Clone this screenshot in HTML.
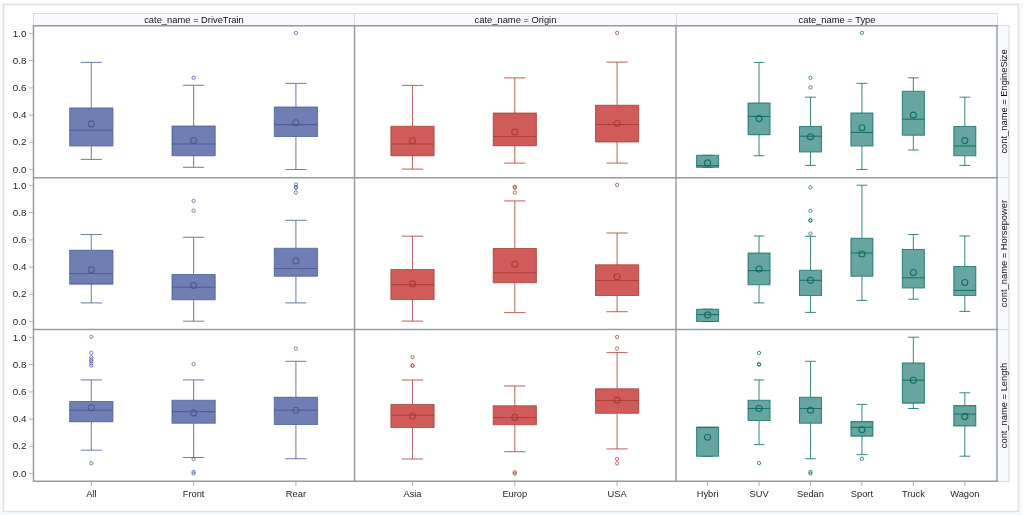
<!DOCTYPE html>
<html><head><meta charset="utf-8"><style>
html,body{margin:0;padding:0;width:1023px;height:515px;overflow:hidden;background:#f7f8fb;font-family:"Liberation Sans",sans-serif;}
svg text{font-family:"Liberation Sans",sans-serif;}
svg{will-change:transform;}
</style></head><body>
<svg width="1023" height="515" viewBox="0 0 1023 515" style="position:absolute;left:0;top:0">
<rect x="0" y="0" width="1023" height="515" fill="#f8f9fd"/>
<rect x="0" y="0" width="1023" height="2" fill="#fefefe"/>
<rect x="2" y="2" width="1019" height="512" fill="#fafbfd"/>
<rect x="3.5" y="4.5" width="1015" height="507" fill="#ffffff" stroke="#e2e2e2" stroke-width="1.6"/>
<rect x="33.5" y="13.5" width="321" height="12" fill="#f9fafd" stroke="#d9dadd" stroke-width="1"/>
<text transform="translate(194.00,22.60) scale(1,1.0)" x="0" y="0" text-anchor="middle" font-size="9.35" fill="#111">cate_name = DriveTrain</text>
<rect x="354.5" y="13.5" width="322" height="12" fill="#f9fafd" stroke="#d9dadd" stroke-width="1"/>
<text transform="translate(515.50,22.60) scale(1,1.0)" x="0" y="0" text-anchor="middle" font-size="9.35" fill="#111">cate_name = Origin</text>
<rect x="676.5" y="13.5" width="321" height="12" fill="#f9fafd" stroke="#d9dadd" stroke-width="1"/>
<text transform="translate(837.00,22.60) scale(1,1.0)" x="0" y="0" text-anchor="middle" font-size="9.35" fill="#111">cate_name = Type</text>
<rect x="997.5" y="25.5" width="11.5" height="152" fill="#f9fafd" stroke="#d9dadd" stroke-width="1"/>
<text transform="translate(1006.80,101.50) rotate(-90) scale(1,1.0)" x="0" y="0" text-anchor="middle" font-size="9.35" fill="#111">cont_name = EngineSize</text>
<rect x="997.5" y="177.5" width="11.5" height="152" fill="#f9fafd" stroke="#d9dadd" stroke-width="1"/>
<text transform="translate(1006.80,253.50) rotate(-90) scale(1,1.0)" x="0" y="0" text-anchor="middle" font-size="9.35" fill="#111">cont_name = Horsepower</text>
<rect x="997.5" y="329.5" width="11.5" height="152" fill="#f9fafd" stroke="#d9dadd" stroke-width="1"/>
<text transform="translate(1006.80,405.50) rotate(-90) scale(1,1.0)" x="0" y="0" text-anchor="middle" font-size="9.35" fill="#111">cont_name = Length</text>
<rect x="33.5" y="25.5" width="964" height="456" fill="#fff"/>
<line x1="91.3" y1="62.4" x2="91.3" y2="107.9" stroke="#445694" stroke-width="1.05" opacity="0.75"/>
<line x1="80.7" y1="62.4" x2="101.9" y2="62.4" stroke="#445694" stroke-width="1.05" opacity="0.75"/>
<line x1="91.3" y1="145.9" x2="91.3" y2="159.4" stroke="#445694" stroke-width="1.05" opacity="0.75"/>
<line x1="80.7" y1="159.4" x2="101.9" y2="159.4" stroke="#445694" stroke-width="1.05" opacity="0.75"/>
<rect x="69.7" y="107.9" width="43.2" height="38" fill="#6f7eb3" stroke="#445694" stroke-opacity="0.72" stroke-linejoin="round" stroke-width="1.05"/>
<line x1="69.7" y1="130.2" x2="112.9" y2="130.2" stroke="#445694" stroke-opacity="0.8" stroke-width="1.05"/>
<circle cx="91.3" cy="123.9" r="3.0" fill="none" stroke="#445694" stroke-opacity="0.85" stroke-width="1.1"/>
<line x1="193.6" y1="85.3" x2="193.6" y2="126.1" stroke="#445694" stroke-width="1.05" opacity="0.75"/>
<line x1="183" y1="85.3" x2="204.2" y2="85.3" stroke="#445694" stroke-width="1.05" opacity="0.75"/>
<line x1="193.6" y1="155.6" x2="193.6" y2="167.3" stroke="#445694" stroke-width="1.05" opacity="0.75"/>
<line x1="183" y1="167.3" x2="204.2" y2="167.3" stroke="#445694" stroke-width="1.05" opacity="0.75"/>
<rect x="172" y="126.1" width="43.2" height="29.5" fill="#6f7eb3" stroke="#445694" stroke-opacity="0.72" stroke-linejoin="round" stroke-width="1.05"/>
<line x1="172" y1="144" x2="215.2" y2="144" stroke="#445694" stroke-opacity="0.8" stroke-width="1.05"/>
<circle cx="193.6" cy="140.6" r="3.0" fill="none" stroke="#445694" stroke-opacity="0.85" stroke-width="1.1"/>
<circle cx="193.6" cy="77.8" r="1.65" fill="none" stroke="#445694" stroke-opacity="0.75" stroke-width="0.95"/>
<line x1="295.9" y1="83.4" x2="295.9" y2="107" stroke="#445694" stroke-width="1.05" opacity="0.75"/>
<line x1="285.3" y1="83.4" x2="306.5" y2="83.4" stroke="#445694" stroke-width="1.05" opacity="0.75"/>
<line x1="295.9" y1="136.5" x2="295.9" y2="169.5" stroke="#445694" stroke-width="1.05" opacity="0.75"/>
<line x1="285.3" y1="169.5" x2="306.5" y2="169.5" stroke="#445694" stroke-width="1.05" opacity="0.75"/>
<rect x="274.3" y="107" width="43.2" height="29.5" fill="#6f7eb3" stroke="#445694" stroke-opacity="0.72" stroke-linejoin="round" stroke-width="1.05"/>
<line x1="274.3" y1="124.6" x2="317.5" y2="124.6" stroke="#445694" stroke-opacity="0.8" stroke-width="1.05"/>
<circle cx="295.9" cy="122.7" r="3.0" fill="none" stroke="#445694" stroke-opacity="0.85" stroke-width="1.1"/>
<circle cx="295.9" cy="32.9" r="1.65" fill="none" stroke="#445694" stroke-opacity="0.75" stroke-width="0.95"/>
<line x1="412.5" y1="85.4" x2="412.5" y2="126.3" stroke="#a23a2e" stroke-width="1.05" opacity="0.75"/>
<line x1="401.9" y1="85.4" x2="423.1" y2="85.4" stroke="#a23a2e" stroke-width="1.05" opacity="0.75"/>
<line x1="412.5" y1="155.6" x2="412.5" y2="169.1" stroke="#a23a2e" stroke-width="1.05" opacity="0.75"/>
<line x1="401.9" y1="169.1" x2="423.1" y2="169.1" stroke="#a23a2e" stroke-width="1.05" opacity="0.75"/>
<rect x="390.9" y="126.3" width="43.2" height="29.3" fill="#d05b5b" stroke="#a23a2e" stroke-opacity="0.72" stroke-linejoin="round" stroke-width="1.05"/>
<line x1="390.9" y1="143.9" x2="434.1" y2="143.9" stroke="#a23a2e" stroke-opacity="0.8" stroke-width="1.05"/>
<circle cx="412.5" cy="140.8" r="3.0" fill="none" stroke="#a23a2e" stroke-opacity="0.85" stroke-width="1.1"/>
<line x1="514.8" y1="77.9" x2="514.8" y2="113.1" stroke="#a23a2e" stroke-width="1.05" opacity="0.75"/>
<line x1="504.2" y1="77.9" x2="525.4" y2="77.9" stroke="#a23a2e" stroke-width="1.05" opacity="0.75"/>
<line x1="514.8" y1="145.8" x2="514.8" y2="163.1" stroke="#a23a2e" stroke-width="1.05" opacity="0.75"/>
<line x1="504.2" y1="163.1" x2="525.4" y2="163.1" stroke="#a23a2e" stroke-width="1.05" opacity="0.75"/>
<rect x="493.2" y="113.1" width="43.2" height="32.7" fill="#d05b5b" stroke="#a23a2e" stroke-opacity="0.72" stroke-linejoin="round" stroke-width="1.05"/>
<line x1="493.2" y1="136.4" x2="536.4" y2="136.4" stroke="#a23a2e" stroke-opacity="0.8" stroke-width="1.05"/>
<circle cx="514.8" cy="132" r="3.0" fill="none" stroke="#a23a2e" stroke-opacity="0.85" stroke-width="1.1"/>
<line x1="617.1" y1="62.1" x2="617.1" y2="105.2" stroke="#a23a2e" stroke-width="1.05" opacity="0.75"/>
<line x1="606.5" y1="62.1" x2="627.7" y2="62.1" stroke="#a23a2e" stroke-width="1.05" opacity="0.75"/>
<line x1="617.1" y1="142" x2="617.1" y2="163.1" stroke="#a23a2e" stroke-width="1.05" opacity="0.75"/>
<line x1="606.5" y1="163.1" x2="627.7" y2="163.1" stroke="#a23a2e" stroke-width="1.05" opacity="0.75"/>
<rect x="595.5" y="105.2" width="43.2" height="36.8" fill="#d05b5b" stroke="#a23a2e" stroke-opacity="0.72" stroke-linejoin="round" stroke-width="1.05"/>
<line x1="595.5" y1="124.4" x2="638.7" y2="124.4" stroke="#a23a2e" stroke-opacity="0.8" stroke-width="1.05"/>
<circle cx="617.1" cy="123.5" r="3.0" fill="none" stroke="#a23a2e" stroke-opacity="0.85" stroke-width="1.1"/>
<circle cx="617.1" cy="32.9" r="1.65" fill="none" stroke="#a23a2e" stroke-opacity="0.75" stroke-width="0.95"/>
<line x1="707.6" y1="155.3" x2="707.6" y2="155.3" stroke="#01665e" stroke-width="1.05" opacity="0.75"/>
<line x1="702.2" y1="155.3" x2="713" y2="155.3" stroke="#01665e" stroke-width="1.05" opacity="0.75"/>
<line x1="707.6" y1="167.3" x2="707.6" y2="167.3" stroke="#01665e" stroke-width="1.05" opacity="0.75"/>
<line x1="702.2" y1="167.3" x2="713" y2="167.3" stroke="#01665e" stroke-width="1.05" opacity="0.75"/>
<rect x="696.6" y="155.3" width="22" height="12" fill="#66a5a0" stroke="#01665e" stroke-opacity="0.72" stroke-linejoin="round" stroke-width="1.05"/>
<line x1="696.6" y1="165.7" x2="718.6" y2="165.7" stroke="#01665e" stroke-opacity="0.8" stroke-width="1.05"/>
<circle cx="707.6" cy="162.9" r="3.0" fill="none" stroke="#01665e" stroke-opacity="0.85" stroke-width="1.1"/>
<line x1="759.04" y1="62.4" x2="759.04" y2="102.9" stroke="#01665e" stroke-width="1.05" opacity="0.75"/>
<line x1="753.64" y1="62.4" x2="764.44" y2="62.4" stroke="#01665e" stroke-width="1.05" opacity="0.75"/>
<line x1="759.04" y1="134.6" x2="759.04" y2="155.7" stroke="#01665e" stroke-width="1.05" opacity="0.75"/>
<line x1="753.64" y1="155.7" x2="764.44" y2="155.7" stroke="#01665e" stroke-width="1.05" opacity="0.75"/>
<rect x="748.04" y="102.9" width="22" height="31.7" fill="#66a5a0" stroke="#01665e" stroke-opacity="0.72" stroke-linejoin="round" stroke-width="1.05"/>
<line x1="748.04" y1="116.4" x2="770.04" y2="116.4" stroke="#01665e" stroke-opacity="0.8" stroke-width="1.05"/>
<circle cx="759.04" cy="118.6" r="3.0" fill="none" stroke="#01665e" stroke-opacity="0.85" stroke-width="1.1"/>
<line x1="810.48" y1="97.2" x2="810.48" y2="126.4" stroke="#01665e" stroke-width="1.05" opacity="0.75"/>
<line x1="805.08" y1="97.2" x2="815.88" y2="97.2" stroke="#01665e" stroke-width="1.05" opacity="0.75"/>
<line x1="810.48" y1="151.9" x2="810.48" y2="165.4" stroke="#01665e" stroke-width="1.05" opacity="0.75"/>
<line x1="805.08" y1="165.4" x2="815.88" y2="165.4" stroke="#01665e" stroke-width="1.05" opacity="0.75"/>
<rect x="799.48" y="126.4" width="22" height="25.5" fill="#66a5a0" stroke="#01665e" stroke-opacity="0.72" stroke-linejoin="round" stroke-width="1.05"/>
<line x1="799.48" y1="136.2" x2="821.48" y2="136.2" stroke="#01665e" stroke-opacity="0.8" stroke-width="1.05"/>
<circle cx="810.48" cy="136.8" r="3.0" fill="none" stroke="#01665e" stroke-opacity="0.85" stroke-width="1.1"/>
<circle cx="810.48" cy="77.8" r="1.65" fill="none" stroke="#01665e" stroke-opacity="0.75" stroke-width="0.95"/>
<circle cx="810.48" cy="87.5" r="1.65" fill="none" stroke="#01665e" stroke-opacity="0.75" stroke-width="0.95"/>
<line x1="861.92" y1="83.4" x2="861.92" y2="112.9" stroke="#01665e" stroke-width="1.05" opacity="0.75"/>
<line x1="856.52" y1="83.4" x2="867.32" y2="83.4" stroke="#01665e" stroke-width="1.05" opacity="0.75"/>
<line x1="861.92" y1="145.9" x2="861.92" y2="169.5" stroke="#01665e" stroke-width="1.05" opacity="0.75"/>
<line x1="856.52" y1="169.5" x2="867.32" y2="169.5" stroke="#01665e" stroke-width="1.05" opacity="0.75"/>
<rect x="850.92" y="112.9" width="22" height="33" fill="#66a5a0" stroke="#01665e" stroke-opacity="0.72" stroke-linejoin="round" stroke-width="1.05"/>
<line x1="850.92" y1="132.4" x2="872.92" y2="132.4" stroke="#01665e" stroke-opacity="0.8" stroke-width="1.05"/>
<circle cx="861.92" cy="127.7" r="3.0" fill="none" stroke="#01665e" stroke-opacity="0.85" stroke-width="1.1"/>
<circle cx="861.92" cy="32.85" r="1.65" fill="none" stroke="#01665e" stroke-opacity="0.75" stroke-width="0.95"/>
<line x1="913.36" y1="77.8" x2="913.36" y2="91.3" stroke="#01665e" stroke-width="1.05" opacity="0.75"/>
<line x1="907.96" y1="77.8" x2="918.76" y2="77.8" stroke="#01665e" stroke-width="1.05" opacity="0.75"/>
<line x1="913.36" y1="135.2" x2="913.36" y2="150" stroke="#01665e" stroke-width="1.05" opacity="0.75"/>
<line x1="907.96" y1="150" x2="918.76" y2="150" stroke="#01665e" stroke-width="1.05" opacity="0.75"/>
<rect x="902.36" y="91.3" width="22" height="43.9" fill="#66a5a0" stroke="#01665e" stroke-opacity="0.72" stroke-linejoin="round" stroke-width="1.05"/>
<line x1="902.36" y1="119.2" x2="924.36" y2="119.2" stroke="#01665e" stroke-opacity="0.8" stroke-width="1.05"/>
<circle cx="913.36" cy="115.1" r="3.0" fill="none" stroke="#01665e" stroke-opacity="0.85" stroke-width="1.1"/>
<line x1="964.8" y1="97.2" x2="964.8" y2="126.4" stroke="#01665e" stroke-width="1.05" opacity="0.75"/>
<line x1="959.4" y1="97.2" x2="970.2" y2="97.2" stroke="#01665e" stroke-width="1.05" opacity="0.75"/>
<line x1="964.8" y1="155.7" x2="964.8" y2="165.4" stroke="#01665e" stroke-width="1.05" opacity="0.75"/>
<line x1="959.4" y1="165.4" x2="970.2" y2="165.4" stroke="#01665e" stroke-width="1.05" opacity="0.75"/>
<rect x="953.8" y="126.4" width="22" height="29.3" fill="#66a5a0" stroke="#01665e" stroke-opacity="0.72" stroke-linejoin="round" stroke-width="1.05"/>
<line x1="953.8" y1="145.9" x2="975.8" y2="145.9" stroke="#01665e" stroke-opacity="0.8" stroke-width="1.05"/>
<circle cx="964.8" cy="140.6" r="3.0" fill="none" stroke="#01665e" stroke-opacity="0.85" stroke-width="1.1"/>
<line x1="91.3" y1="234.5" x2="91.3" y2="250.2" stroke="#445694" stroke-width="1.05" opacity="0.75"/>
<line x1="80.7" y1="234.5" x2="101.9" y2="234.5" stroke="#445694" stroke-width="1.05" opacity="0.75"/>
<line x1="91.3" y1="284.1" x2="91.3" y2="302.9" stroke="#445694" stroke-width="1.05" opacity="0.75"/>
<line x1="80.7" y1="302.9" x2="101.9" y2="302.9" stroke="#445694" stroke-width="1.05" opacity="0.75"/>
<rect x="69.7" y="250.2" width="43.2" height="33.9" fill="#6f7eb3" stroke="#445694" stroke-opacity="0.72" stroke-linejoin="round" stroke-width="1.05"/>
<line x1="69.7" y1="273.4" x2="112.9" y2="273.4" stroke="#445694" stroke-opacity="0.8" stroke-width="1.05"/>
<circle cx="91.3" cy="269.7" r="3.0" fill="none" stroke="#445694" stroke-opacity="0.85" stroke-width="1.1"/>
<line x1="193.6" y1="237.3" x2="193.6" y2="274.4" stroke="#445694" stroke-width="1.05" opacity="0.75"/>
<line x1="183" y1="237.3" x2="204.2" y2="237.3" stroke="#445694" stroke-width="1.05" opacity="0.75"/>
<line x1="193.6" y1="299.8" x2="193.6" y2="321.2" stroke="#445694" stroke-width="1.05" opacity="0.75"/>
<line x1="183" y1="321.2" x2="204.2" y2="321.2" stroke="#445694" stroke-width="1.05" opacity="0.75"/>
<rect x="172" y="274.4" width="43.2" height="25.4" fill="#6f7eb3" stroke="#445694" stroke-opacity="0.72" stroke-linejoin="round" stroke-width="1.05"/>
<line x1="172" y1="287.2" x2="215.2" y2="287.2" stroke="#445694" stroke-opacity="0.8" stroke-width="1.05"/>
<circle cx="193.6" cy="285.4" r="3.0" fill="none" stroke="#445694" stroke-opacity="0.85" stroke-width="1.1"/>
<circle cx="193.6" cy="200.9" r="1.65" fill="none" stroke="#445694" stroke-opacity="0.75" stroke-width="0.95"/>
<circle cx="193.6" cy="210.6" r="1.65" fill="none" stroke="#445694" stroke-opacity="0.75" stroke-width="0.95"/>
<line x1="295.9" y1="220.3" x2="295.9" y2="248.3" stroke="#445694" stroke-width="1.05" opacity="0.75"/>
<line x1="285.3" y1="220.3" x2="306.5" y2="220.3" stroke="#445694" stroke-width="1.05" opacity="0.75"/>
<line x1="295.9" y1="276.2" x2="295.9" y2="302.9" stroke="#445694" stroke-width="1.05" opacity="0.75"/>
<line x1="285.3" y1="302.9" x2="306.5" y2="302.9" stroke="#445694" stroke-width="1.05" opacity="0.75"/>
<rect x="274.3" y="248.3" width="43.2" height="27.9" fill="#6f7eb3" stroke="#445694" stroke-opacity="0.72" stroke-linejoin="round" stroke-width="1.05"/>
<line x1="274.3" y1="268.4" x2="317.5" y2="268.4" stroke="#445694" stroke-opacity="0.8" stroke-width="1.05"/>
<circle cx="295.9" cy="260.9" r="3.0" fill="none" stroke="#445694" stroke-opacity="0.85" stroke-width="1.1"/>
<circle cx="295.9" cy="184.5" r="1.65" fill="none" stroke="#445694" stroke-opacity="0.75" stroke-width="0.95"/>
<circle cx="295.9" cy="187" r="1.65" fill="none" stroke="#445694" stroke-opacity="0.75" stroke-width="0.95"/>
<circle cx="295.9" cy="187.7" r="1.65" fill="none" stroke="#445694" stroke-opacity="0.75" stroke-width="0.95"/>
<circle cx="295.9" cy="192.4" r="1.65" fill="none" stroke="#445694" stroke-opacity="0.75" stroke-width="0.95"/>
<line x1="412.5" y1="236.2" x2="412.5" y2="269.5" stroke="#a23a2e" stroke-width="1.05" opacity="0.75"/>
<line x1="401.9" y1="236.2" x2="423.1" y2="236.2" stroke="#a23a2e" stroke-width="1.05" opacity="0.75"/>
<line x1="412.5" y1="299.4" x2="412.5" y2="321.1" stroke="#a23a2e" stroke-width="1.05" opacity="0.75"/>
<line x1="401.9" y1="321.1" x2="423.1" y2="321.1" stroke="#a23a2e" stroke-width="1.05" opacity="0.75"/>
<rect x="390.9" y="269.5" width="43.2" height="29.9" fill="#d05b5b" stroke="#a23a2e" stroke-opacity="0.72" stroke-linejoin="round" stroke-width="1.05"/>
<line x1="390.9" y1="284.6" x2="434.1" y2="284.6" stroke="#a23a2e" stroke-opacity="0.8" stroke-width="1.05"/>
<circle cx="412.5" cy="283.7" r="3.0" fill="none" stroke="#a23a2e" stroke-opacity="0.85" stroke-width="1.1"/>
<line x1="514.8" y1="200.9" x2="514.8" y2="248.4" stroke="#a23a2e" stroke-width="1.05" opacity="0.75"/>
<line x1="504.2" y1="200.9" x2="525.4" y2="200.9" stroke="#a23a2e" stroke-width="1.05" opacity="0.75"/>
<line x1="514.8" y1="282.7" x2="514.8" y2="312.6" stroke="#a23a2e" stroke-width="1.05" opacity="0.75"/>
<line x1="504.2" y1="312.6" x2="525.4" y2="312.6" stroke="#a23a2e" stroke-width="1.05" opacity="0.75"/>
<rect x="493.2" y="248.4" width="43.2" height="34.3" fill="#d05b5b" stroke="#a23a2e" stroke-opacity="0.72" stroke-linejoin="round" stroke-width="1.05"/>
<line x1="493.2" y1="272.7" x2="536.4" y2="272.7" stroke="#a23a2e" stroke-opacity="0.8" stroke-width="1.05"/>
<circle cx="514.8" cy="264.2" r="3.0" fill="none" stroke="#a23a2e" stroke-opacity="0.85" stroke-width="1.1"/>
<circle cx="514.8" cy="186.8" r="1.65" fill="none" stroke="#a23a2e" stroke-opacity="0.75" stroke-width="0.95"/>
<circle cx="514.8" cy="187.7" r="1.65" fill="none" stroke="#a23a2e" stroke-opacity="0.75" stroke-width="0.95"/>
<circle cx="514.8" cy="192.4" r="1.65" fill="none" stroke="#a23a2e" stroke-opacity="0.75" stroke-width="0.95"/>
<line x1="617.1" y1="233" x2="617.1" y2="264.8" stroke="#a23a2e" stroke-width="1.05" opacity="0.75"/>
<line x1="606.5" y1="233" x2="627.7" y2="233" stroke="#a23a2e" stroke-width="1.05" opacity="0.75"/>
<line x1="617.1" y1="295.6" x2="617.1" y2="311.7" stroke="#a23a2e" stroke-width="1.05" opacity="0.75"/>
<line x1="606.5" y1="311.7" x2="627.7" y2="311.7" stroke="#a23a2e" stroke-width="1.05" opacity="0.75"/>
<rect x="595.5" y="264.8" width="43.2" height="30.8" fill="#d05b5b" stroke="#a23a2e" stroke-opacity="0.72" stroke-linejoin="round" stroke-width="1.05"/>
<line x1="595.5" y1="280.5" x2="638.7" y2="280.5" stroke="#a23a2e" stroke-opacity="0.8" stroke-width="1.05"/>
<circle cx="617.1" cy="276.7" r="3.0" fill="none" stroke="#a23a2e" stroke-opacity="0.85" stroke-width="1.1"/>
<circle cx="617.1" cy="184.9" r="1.65" fill="none" stroke="#a23a2e" stroke-opacity="0.75" stroke-width="0.95"/>
<line x1="707.6" y1="309.2" x2="707.6" y2="309.2" stroke="#01665e" stroke-width="1.05" opacity="0.75"/>
<line x1="702.2" y1="309.2" x2="713" y2="309.2" stroke="#01665e" stroke-width="1.05" opacity="0.75"/>
<line x1="707.6" y1="321.5" x2="707.6" y2="321.5" stroke="#01665e" stroke-width="1.05" opacity="0.75"/>
<line x1="702.2" y1="321.5" x2="713" y2="321.5" stroke="#01665e" stroke-width="1.05" opacity="0.75"/>
<rect x="696.6" y="309.2" width="22" height="12.3" fill="#66a5a0" stroke="#01665e" stroke-opacity="0.72" stroke-linejoin="round" stroke-width="1.05"/>
<line x1="696.6" y1="314.6" x2="718.6" y2="314.6" stroke="#01665e" stroke-opacity="0.8" stroke-width="1.05"/>
<circle cx="707.6" cy="314.9" r="3.0" fill="none" stroke="#01665e" stroke-opacity="0.85" stroke-width="1.1"/>
<line x1="759.04" y1="236" x2="759.04" y2="253" stroke="#01665e" stroke-width="1.05" opacity="0.75"/>
<line x1="753.64" y1="236" x2="764.44" y2="236" stroke="#01665e" stroke-width="1.05" opacity="0.75"/>
<line x1="759.04" y1="284.7" x2="759.04" y2="302.9" stroke="#01665e" stroke-width="1.05" opacity="0.75"/>
<line x1="753.64" y1="302.9" x2="764.44" y2="302.9" stroke="#01665e" stroke-width="1.05" opacity="0.75"/>
<rect x="748.04" y="253" width="22" height="31.7" fill="#66a5a0" stroke="#01665e" stroke-opacity="0.72" stroke-linejoin="round" stroke-width="1.05"/>
<line x1="748.04" y1="270.6" x2="770.04" y2="270.6" stroke="#01665e" stroke-opacity="0.8" stroke-width="1.05"/>
<circle cx="759.04" cy="269" r="3.0" fill="none" stroke="#01665e" stroke-opacity="0.85" stroke-width="1.1"/>
<line x1="810.48" y1="236.3" x2="810.48" y2="270.3" stroke="#01665e" stroke-width="1.05" opacity="0.75"/>
<line x1="805.08" y1="236.3" x2="815.88" y2="236.3" stroke="#01665e" stroke-width="1.05" opacity="0.75"/>
<line x1="810.48" y1="295.4" x2="810.48" y2="312.4" stroke="#01665e" stroke-width="1.05" opacity="0.75"/>
<line x1="805.08" y1="312.4" x2="815.88" y2="312.4" stroke="#01665e" stroke-width="1.05" opacity="0.75"/>
<rect x="799.48" y="270.3" width="22" height="25.1" fill="#66a5a0" stroke="#01665e" stroke-opacity="0.72" stroke-linejoin="round" stroke-width="1.05"/>
<line x1="799.48" y1="280.3" x2="821.48" y2="280.3" stroke="#01665e" stroke-opacity="0.8" stroke-width="1.05"/>
<circle cx="810.48" cy="280.3" r="3.0" fill="none" stroke="#01665e" stroke-opacity="0.85" stroke-width="1.1"/>
<circle cx="810.48" cy="187.4" r="1.65" fill="none" stroke="#01665e" stroke-opacity="0.75" stroke-width="0.95"/>
<circle cx="810.48" cy="210.8" r="1.65" fill="none" stroke="#01665e" stroke-opacity="0.75" stroke-width="0.95"/>
<circle cx="810.48" cy="220.3" r="1.65" fill="none" stroke="#01665e" stroke-opacity="0.75" stroke-width="0.95"/>
<circle cx="810.48" cy="220.6" r="1.65" fill="none" stroke="#01665e" stroke-opacity="0.75" stroke-width="0.95"/>
<circle cx="810.48" cy="233.6" r="1.65" fill="none" stroke="#01665e" stroke-opacity="0.75" stroke-width="0.95"/>
<line x1="861.92" y1="185.2" x2="861.92" y2="238.2" stroke="#01665e" stroke-width="1.05" opacity="0.75"/>
<line x1="856.52" y1="185.2" x2="867.32" y2="185.2" stroke="#01665e" stroke-width="1.05" opacity="0.75"/>
<line x1="861.92" y1="276.2" x2="861.92" y2="300.4" stroke="#01665e" stroke-width="1.05" opacity="0.75"/>
<line x1="856.52" y1="300.4" x2="867.32" y2="300.4" stroke="#01665e" stroke-width="1.05" opacity="0.75"/>
<rect x="850.92" y="238.2" width="22" height="38" fill="#66a5a0" stroke="#01665e" stroke-opacity="0.72" stroke-linejoin="round" stroke-width="1.05"/>
<line x1="850.92" y1="253" x2="872.92" y2="253" stroke="#01665e" stroke-opacity="0.8" stroke-width="1.05"/>
<circle cx="861.92" cy="254" r="3.0" fill="none" stroke="#01665e" stroke-opacity="0.85" stroke-width="1.1"/>
<line x1="913.36" y1="234.5" x2="913.36" y2="249.5" stroke="#01665e" stroke-width="1.05" opacity="0.75"/>
<line x1="907.96" y1="234.5" x2="918.76" y2="234.5" stroke="#01665e" stroke-width="1.05" opacity="0.75"/>
<line x1="913.36" y1="287.9" x2="913.36" y2="299.2" stroke="#01665e" stroke-width="1.05" opacity="0.75"/>
<line x1="907.96" y1="299.2" x2="918.76" y2="299.2" stroke="#01665e" stroke-width="1.05" opacity="0.75"/>
<rect x="902.36" y="249.5" width="22" height="38.4" fill="#66a5a0" stroke="#01665e" stroke-opacity="0.72" stroke-linejoin="round" stroke-width="1.05"/>
<line x1="902.36" y1="277.8" x2="924.36" y2="277.8" stroke="#01665e" stroke-opacity="0.8" stroke-width="1.05"/>
<circle cx="913.36" cy="272.5" r="3.0" fill="none" stroke="#01665e" stroke-opacity="0.85" stroke-width="1.1"/>
<line x1="964.8" y1="236" x2="964.8" y2="266.5" stroke="#01665e" stroke-width="1.05" opacity="0.75"/>
<line x1="959.4" y1="236" x2="970.2" y2="236" stroke="#01665e" stroke-width="1.05" opacity="0.75"/>
<line x1="964.8" y1="295.4" x2="964.8" y2="311.4" stroke="#01665e" stroke-width="1.05" opacity="0.75"/>
<line x1="959.4" y1="311.4" x2="970.2" y2="311.4" stroke="#01665e" stroke-width="1.05" opacity="0.75"/>
<rect x="953.8" y="266.5" width="22" height="28.9" fill="#66a5a0" stroke="#01665e" stroke-opacity="0.72" stroke-linejoin="round" stroke-width="1.05"/>
<line x1="953.8" y1="290.4" x2="975.8" y2="290.4" stroke="#01665e" stroke-opacity="0.8" stroke-width="1.05"/>
<circle cx="964.8" cy="282.5" r="3.0" fill="none" stroke="#01665e" stroke-opacity="0.85" stroke-width="1.1"/>
<line x1="91.3" y1="379.9" x2="91.3" y2="401.5" stroke="#445694" stroke-width="1.05" opacity="0.75"/>
<line x1="80.7" y1="379.9" x2="101.9" y2="379.9" stroke="#445694" stroke-width="1.05" opacity="0.75"/>
<line x1="91.3" y1="421.6" x2="91.3" y2="450.2" stroke="#445694" stroke-width="1.05" opacity="0.75"/>
<line x1="80.7" y1="450.2" x2="101.9" y2="450.2" stroke="#445694" stroke-width="1.05" opacity="0.75"/>
<rect x="69.7" y="401.5" width="43.2" height="20.1" fill="#6f7eb3" stroke="#445694" stroke-opacity="0.72" stroke-linejoin="round" stroke-width="1.05"/>
<line x1="69.7" y1="410.3" x2="112.9" y2="410.3" stroke="#445694" stroke-opacity="0.8" stroke-width="1.05"/>
<circle cx="91.3" cy="407.8" r="3.0" fill="none" stroke="#445694" stroke-opacity="0.85" stroke-width="1.1"/>
<circle cx="91.3" cy="336.9" r="1.65" fill="none" stroke="#445694" stroke-opacity="0.75" stroke-width="0.95"/>
<circle cx="91.3" cy="352.9" r="1.65" fill="none" stroke="#445694" stroke-opacity="0.75" stroke-width="0.95"/>
<circle cx="91.3" cy="357.3" r="1.65" fill="none" stroke="#445694" stroke-opacity="0.75" stroke-width="0.95"/>
<circle cx="91.3" cy="359.5" r="1.65" fill="none" stroke="#445694" stroke-opacity="0.75" stroke-width="0.95"/>
<circle cx="91.3" cy="361.3" r="1.65" fill="none" stroke="#445694" stroke-opacity="0.75" stroke-width="0.95"/>
<circle cx="91.3" cy="363.5" r="1.65" fill="none" stroke="#445694" stroke-opacity="0.75" stroke-width="0.95"/>
<circle cx="91.3" cy="365.7" r="1.65" fill="none" stroke="#445694" stroke-opacity="0.75" stroke-width="0.95"/>
<circle cx="91.3" cy="463.1" r="1.65" fill="none" stroke="#445694" stroke-opacity="0.75" stroke-width="0.95"/>
<line x1="193.6" y1="379.9" x2="193.6" y2="400.3" stroke="#445694" stroke-width="1.05" opacity="0.75"/>
<line x1="183" y1="379.9" x2="204.2" y2="379.9" stroke="#445694" stroke-width="1.05" opacity="0.75"/>
<line x1="193.6" y1="423.2" x2="193.6" y2="457.5" stroke="#445694" stroke-width="1.05" opacity="0.75"/>
<line x1="183" y1="457.5" x2="204.2" y2="457.5" stroke="#445694" stroke-width="1.05" opacity="0.75"/>
<rect x="172" y="400.3" width="43.2" height="22.9" fill="#6f7eb3" stroke="#445694" stroke-opacity="0.72" stroke-linejoin="round" stroke-width="1.05"/>
<line x1="172" y1="411.6" x2="215.2" y2="411.6" stroke="#445694" stroke-opacity="0.8" stroke-width="1.05"/>
<circle cx="193.6" cy="412.9" r="3.0" fill="none" stroke="#445694" stroke-opacity="0.85" stroke-width="1.1"/>
<circle cx="193.6" cy="364.2" r="1.65" fill="none" stroke="#445694" stroke-opacity="0.75" stroke-width="0.95"/>
<circle cx="193.6" cy="459" r="1.65" fill="none" stroke="#445694" stroke-opacity="0.75" stroke-width="0.95"/>
<circle cx="193.6" cy="471.9" r="1.65" fill="none" stroke="#445694" stroke-opacity="0.75" stroke-width="0.95"/>
<circle cx="193.6" cy="473.5" r="1.65" fill="none" stroke="#445694" stroke-opacity="0.75" stroke-width="0.95"/>
<line x1="295.9" y1="361.3" x2="295.9" y2="397.2" stroke="#445694" stroke-width="1.05" opacity="0.75"/>
<line x1="285.3" y1="361.3" x2="306.5" y2="361.3" stroke="#445694" stroke-width="1.05" opacity="0.75"/>
<line x1="295.9" y1="424.5" x2="295.9" y2="458.7" stroke="#445694" stroke-width="1.05" opacity="0.75"/>
<line x1="285.3" y1="458.7" x2="306.5" y2="458.7" stroke="#445694" stroke-width="1.05" opacity="0.75"/>
<rect x="274.3" y="397.2" width="43.2" height="27.3" fill="#6f7eb3" stroke="#445694" stroke-opacity="0.72" stroke-linejoin="round" stroke-width="1.05"/>
<line x1="274.3" y1="410.3" x2="317.5" y2="410.3" stroke="#445694" stroke-opacity="0.8" stroke-width="1.05"/>
<circle cx="295.9" cy="410.3" r="3.0" fill="none" stroke="#445694" stroke-opacity="0.85" stroke-width="1.1"/>
<circle cx="295.9" cy="348.5" r="1.65" fill="none" stroke="#445694" stroke-opacity="0.75" stroke-width="0.95"/>
<line x1="412.5" y1="380" x2="412.5" y2="404.5" stroke="#a23a2e" stroke-width="1.05" opacity="0.75"/>
<line x1="401.9" y1="380" x2="423.1" y2="380" stroke="#a23a2e" stroke-width="1.05" opacity="0.75"/>
<line x1="412.5" y1="427.5" x2="412.5" y2="459" stroke="#a23a2e" stroke-width="1.05" opacity="0.75"/>
<line x1="401.9" y1="459" x2="423.1" y2="459" stroke="#a23a2e" stroke-width="1.05" opacity="0.75"/>
<rect x="390.9" y="404.5" width="43.2" height="23" fill="#d05b5b" stroke="#a23a2e" stroke-opacity="0.72" stroke-linejoin="round" stroke-width="1.05"/>
<line x1="390.9" y1="415.2" x2="434.1" y2="415.2" stroke="#a23a2e" stroke-opacity="0.8" stroke-width="1.05"/>
<circle cx="412.5" cy="416.2" r="3.0" fill="none" stroke="#a23a2e" stroke-opacity="0.85" stroke-width="1.1"/>
<circle cx="412.5" cy="357" r="1.65" fill="none" stroke="#a23a2e" stroke-opacity="0.75" stroke-width="0.95"/>
<circle cx="412.5" cy="365.3" r="1.65" fill="none" stroke="#a23a2e" stroke-opacity="0.75" stroke-width="0.95"/>
<circle cx="412.5" cy="365.8" r="1.65" fill="none" stroke="#a23a2e" stroke-opacity="0.75" stroke-width="0.95"/>
<line x1="514.8" y1="386" x2="514.8" y2="405.8" stroke="#a23a2e" stroke-width="1.05" opacity="0.75"/>
<line x1="504.2" y1="386" x2="525.4" y2="386" stroke="#a23a2e" stroke-width="1.05" opacity="0.75"/>
<line x1="514.8" y1="424.7" x2="514.8" y2="451.7" stroke="#a23a2e" stroke-width="1.05" opacity="0.75"/>
<line x1="504.2" y1="451.7" x2="525.4" y2="451.7" stroke="#a23a2e" stroke-width="1.05" opacity="0.75"/>
<rect x="493.2" y="405.8" width="43.2" height="18.9" fill="#d05b5b" stroke="#a23a2e" stroke-opacity="0.72" stroke-linejoin="round" stroke-width="1.05"/>
<line x1="493.2" y1="417.4" x2="536.4" y2="417.4" stroke="#a23a2e" stroke-opacity="0.8" stroke-width="1.05"/>
<circle cx="514.8" cy="417.4" r="3.0" fill="none" stroke="#a23a2e" stroke-opacity="0.85" stroke-width="1.1"/>
<circle cx="514.8" cy="472.2" r="1.65" fill="none" stroke="#a23a2e" stroke-opacity="0.75" stroke-width="0.95"/>
<circle cx="514.8" cy="473.7" r="1.65" fill="none" stroke="#a23a2e" stroke-opacity="0.75" stroke-width="0.95"/>
<line x1="617.1" y1="352.6" x2="617.1" y2="388.8" stroke="#a23a2e" stroke-width="1.05" opacity="0.75"/>
<line x1="606.5" y1="352.6" x2="627.7" y2="352.6" stroke="#a23a2e" stroke-width="1.05" opacity="0.75"/>
<line x1="617.1" y1="413.3" x2="617.1" y2="448.9" stroke="#a23a2e" stroke-width="1.05" opacity="0.75"/>
<line x1="606.5" y1="448.9" x2="627.7" y2="448.9" stroke="#a23a2e" stroke-width="1.05" opacity="0.75"/>
<rect x="595.5" y="388.8" width="43.2" height="24.5" fill="#d05b5b" stroke="#a23a2e" stroke-opacity="0.72" stroke-linejoin="round" stroke-width="1.05"/>
<line x1="595.5" y1="400.4" x2="638.7" y2="400.4" stroke="#a23a2e" stroke-opacity="0.8" stroke-width="1.05"/>
<circle cx="617.1" cy="400.1" r="3.0" fill="none" stroke="#a23a2e" stroke-opacity="0.85" stroke-width="1.1"/>
<circle cx="617.1" cy="336.9" r="1.65" fill="none" stroke="#a23a2e" stroke-opacity="0.75" stroke-width="0.95"/>
<circle cx="617.1" cy="348.5" r="1.65" fill="none" stroke="#a23a2e" stroke-opacity="0.75" stroke-width="0.95"/>
<circle cx="617.1" cy="459" r="1.65" fill="none" stroke="#a23a2e" stroke-opacity="0.75" stroke-width="0.95"/>
<circle cx="617.1" cy="463.4" r="1.65" fill="none" stroke="#a23a2e" stroke-opacity="0.75" stroke-width="0.95"/>
<line x1="707.6" y1="456.2" x2="707.6" y2="456.2" stroke="#01665e" stroke-width="1.05" opacity="0.75"/>
<line x1="702.2" y1="456.2" x2="713" y2="456.2" stroke="#01665e" stroke-width="1.05" opacity="0.75"/>
<rect x="696.6" y="427.3" width="22" height="28.9" fill="#66a5a0" stroke="#01665e" stroke-opacity="0.72" stroke-linejoin="round" stroke-width="1.05"/>
<line x1="696.6" y1="427.3" x2="718.6" y2="427.3" stroke="#01665e" stroke-opacity="0.8" stroke-width="1.05"/>
<circle cx="707.6" cy="437.2" r="3.0" fill="none" stroke="#01665e" stroke-opacity="0.85" stroke-width="1.1"/>
<line x1="759.04" y1="379.9" x2="759.04" y2="400.3" stroke="#01665e" stroke-width="1.05" opacity="0.75"/>
<line x1="753.64" y1="379.9" x2="764.44" y2="379.9" stroke="#01665e" stroke-width="1.05" opacity="0.75"/>
<line x1="759.04" y1="420.4" x2="759.04" y2="444.6" stroke="#01665e" stroke-width="1.05" opacity="0.75"/>
<line x1="753.64" y1="444.6" x2="764.44" y2="444.6" stroke="#01665e" stroke-width="1.05" opacity="0.75"/>
<rect x="748.04" y="400.3" width="22" height="20.1" fill="#66a5a0" stroke="#01665e" stroke-opacity="0.72" stroke-linejoin="round" stroke-width="1.05"/>
<line x1="748.04" y1="408.5" x2="770.04" y2="408.5" stroke="#01665e" stroke-opacity="0.8" stroke-width="1.05"/>
<circle cx="759.04" cy="408.5" r="3.0" fill="none" stroke="#01665e" stroke-opacity="0.85" stroke-width="1.1"/>
<circle cx="759.04" cy="352.9" r="1.65" fill="none" stroke="#01665e" stroke-opacity="0.75" stroke-width="0.95"/>
<circle cx="759.04" cy="364.2" r="1.65" fill="none" stroke="#01665e" stroke-opacity="0.75" stroke-width="0.95"/>
<circle cx="759.04" cy="364.6" r="1.65" fill="none" stroke="#01665e" stroke-opacity="0.75" stroke-width="0.95"/>
<circle cx="759.04" cy="463.1" r="1.65" fill="none" stroke="#01665e" stroke-opacity="0.75" stroke-width="0.95"/>
<line x1="810.48" y1="361.3" x2="810.48" y2="397.2" stroke="#01665e" stroke-width="1.05" opacity="0.75"/>
<line x1="805.08" y1="361.3" x2="815.88" y2="361.3" stroke="#01665e" stroke-width="1.05" opacity="0.75"/>
<line x1="810.48" y1="423.2" x2="810.48" y2="458.7" stroke="#01665e" stroke-width="1.05" opacity="0.75"/>
<line x1="805.08" y1="458.7" x2="815.88" y2="458.7" stroke="#01665e" stroke-width="1.05" opacity="0.75"/>
<rect x="799.48" y="397.2" width="22" height="26" fill="#66a5a0" stroke="#01665e" stroke-opacity="0.72" stroke-linejoin="round" stroke-width="1.05"/>
<line x1="799.48" y1="408.5" x2="821.48" y2="408.5" stroke="#01665e" stroke-opacity="0.8" stroke-width="1.05"/>
<circle cx="810.48" cy="410.3" r="3.0" fill="none" stroke="#01665e" stroke-opacity="0.85" stroke-width="1.1"/>
<circle cx="810.48" cy="471.9" r="1.65" fill="none" stroke="#01665e" stroke-opacity="0.75" stroke-width="0.95"/>
<circle cx="810.48" cy="473.5" r="1.65" fill="none" stroke="#01665e" stroke-opacity="0.75" stroke-width="0.95"/>
<line x1="861.92" y1="404.4" x2="861.92" y2="421.6" stroke="#01665e" stroke-width="1.05" opacity="0.75"/>
<line x1="856.52" y1="404.4" x2="867.32" y2="404.4" stroke="#01665e" stroke-width="1.05" opacity="0.75"/>
<line x1="861.92" y1="436.1" x2="861.92" y2="454.6" stroke="#01665e" stroke-width="1.05" opacity="0.75"/>
<line x1="856.52" y1="454.6" x2="867.32" y2="454.6" stroke="#01665e" stroke-width="1.05" opacity="0.75"/>
<rect x="850.92" y="421.6" width="22" height="14.5" fill="#66a5a0" stroke="#01665e" stroke-opacity="0.72" stroke-linejoin="round" stroke-width="1.05"/>
<line x1="850.92" y1="427.3" x2="872.92" y2="427.3" stroke="#01665e" stroke-opacity="0.8" stroke-width="1.05"/>
<circle cx="861.92" cy="429.8" r="3.0" fill="none" stroke="#01665e" stroke-opacity="0.85" stroke-width="1.1"/>
<circle cx="861.92" cy="458.7" r="1.65" fill="none" stroke="#01665e" stroke-opacity="0.75" stroke-width="0.95"/>
<line x1="913.36" y1="337.2" x2="913.36" y2="362.9" stroke="#01665e" stroke-width="1.05" opacity="0.75"/>
<line x1="907.96" y1="337.2" x2="918.76" y2="337.2" stroke="#01665e" stroke-width="1.05" opacity="0.75"/>
<line x1="913.36" y1="403.1" x2="913.36" y2="408.5" stroke="#01665e" stroke-width="1.05" opacity="0.75"/>
<line x1="907.96" y1="408.5" x2="918.76" y2="408.5" stroke="#01665e" stroke-width="1.05" opacity="0.75"/>
<rect x="902.36" y="362.9" width="22" height="40.2" fill="#66a5a0" stroke="#01665e" stroke-opacity="0.72" stroke-linejoin="round" stroke-width="1.05"/>
<line x1="902.36" y1="380.2" x2="924.36" y2="380.2" stroke="#01665e" stroke-opacity="0.8" stroke-width="1.05"/>
<circle cx="913.36" cy="380.2" r="3.0" fill="none" stroke="#01665e" stroke-opacity="0.85" stroke-width="1.1"/>
<line x1="964.8" y1="392.8" x2="964.8" y2="405.6" stroke="#01665e" stroke-width="1.05" opacity="0.75"/>
<line x1="959.4" y1="392.8" x2="970.2" y2="392.8" stroke="#01665e" stroke-width="1.05" opacity="0.75"/>
<line x1="964.8" y1="426" x2="964.8" y2="456.2" stroke="#01665e" stroke-width="1.05" opacity="0.75"/>
<line x1="959.4" y1="456.2" x2="970.2" y2="456.2" stroke="#01665e" stroke-width="1.05" opacity="0.75"/>
<rect x="953.8" y="405.6" width="22" height="20.4" fill="#66a5a0" stroke="#01665e" stroke-opacity="0.72" stroke-linejoin="round" stroke-width="1.05"/>
<line x1="953.8" y1="414.1" x2="975.8" y2="414.1" stroke="#01665e" stroke-opacity="0.8" stroke-width="1.05"/>
<circle cx="964.8" cy="416.6" r="3.0" fill="none" stroke="#01665e" stroke-opacity="0.85" stroke-width="1.1"/>
<line x1="32.8" y1="25.8" x2="997.7" y2="25.8" stroke="#979ba0" stroke-width="1.45"/>
<line x1="32.8" y1="177.65" x2="997.7" y2="177.65" stroke="#979ba0" stroke-width="1.45"/>
<line x1="32.8" y1="329.55" x2="997.7" y2="329.55" stroke="#979ba0" stroke-width="1.45"/>
<line x1="32.8" y1="481.3" x2="997.7" y2="481.3" stroke="#979ba0" stroke-width="1.45"/>
<line x1="33.5" y1="25.1" x2="33.5" y2="482.0" stroke="#979ba0" stroke-width="1.45"/>
<line x1="354.56" y1="25.1" x2="354.56" y2="482.0" stroke="#979ba0" stroke-width="1.45"/>
<line x1="676.0" y1="25.1" x2="676.0" y2="482.0" stroke="#979ba0" stroke-width="1.45"/>
<line x1="997.0" y1="25.1" x2="997.0" y2="482.0" stroke="#979ba0" stroke-width="1.45"/>
<line x1="29" y1="169.5" x2="33" y2="169.5" stroke="#b0b0b0" stroke-width="1"/>
<text transform="translate(26.60,172.60) scale(1,1.0)" x="0" y="0" text-anchor="end" font-size="9.9" fill="#1c1c1c">0.0</text>
<line x1="29" y1="142.3" x2="33" y2="142.3" stroke="#b0b0b0" stroke-width="1"/>
<text transform="translate(26.60,145.40) scale(1,1.0)" x="0" y="0" text-anchor="end" font-size="9.9" fill="#1c1c1c">0.2</text>
<line x1="29" y1="115.1" x2="33" y2="115.1" stroke="#b0b0b0" stroke-width="1"/>
<text transform="translate(26.60,118.20) scale(1,1.0)" x="0" y="0" text-anchor="end" font-size="9.9" fill="#1c1c1c">0.4</text>
<line x1="29" y1="87.9" x2="33" y2="87.9" stroke="#b0b0b0" stroke-width="1"/>
<text transform="translate(26.60,91.00) scale(1,1.0)" x="0" y="0" text-anchor="end" font-size="9.9" fill="#1c1c1c">0.6</text>
<line x1="29" y1="60.7" x2="33" y2="60.7" stroke="#b0b0b0" stroke-width="1"/>
<text transform="translate(26.60,63.80) scale(1,1.0)" x="0" y="0" text-anchor="end" font-size="9.9" fill="#1c1c1c">0.8</text>
<line x1="29" y1="33.5" x2="33" y2="33.5" stroke="#b0b0b0" stroke-width="1"/>
<text transform="translate(26.60,36.60) scale(1,1.0)" x="0" y="0" text-anchor="end" font-size="9.9" fill="#1c1c1c">1.0</text>
<line x1="29" y1="321.5" x2="33" y2="321.5" stroke="#b0b0b0" stroke-width="1"/>
<text transform="translate(26.60,324.60) scale(1,1.0)" x="0" y="0" text-anchor="end" font-size="9.9" fill="#1c1c1c">0.0</text>
<line x1="29" y1="294.3" x2="33" y2="294.3" stroke="#b0b0b0" stroke-width="1"/>
<text transform="translate(26.60,297.40) scale(1,1.0)" x="0" y="0" text-anchor="end" font-size="9.9" fill="#1c1c1c">0.2</text>
<line x1="29" y1="267.1" x2="33" y2="267.1" stroke="#b0b0b0" stroke-width="1"/>
<text transform="translate(26.60,270.20) scale(1,1.0)" x="0" y="0" text-anchor="end" font-size="9.9" fill="#1c1c1c">0.4</text>
<line x1="29" y1="239.9" x2="33" y2="239.9" stroke="#b0b0b0" stroke-width="1"/>
<text transform="translate(26.60,243.00) scale(1,1.0)" x="0" y="0" text-anchor="end" font-size="9.9" fill="#1c1c1c">0.6</text>
<line x1="29" y1="212.7" x2="33" y2="212.7" stroke="#b0b0b0" stroke-width="1"/>
<text transform="translate(26.60,215.80) scale(1,1.0)" x="0" y="0" text-anchor="end" font-size="9.9" fill="#1c1c1c">0.8</text>
<line x1="29" y1="185.5" x2="33" y2="185.5" stroke="#b0b0b0" stroke-width="1"/>
<text transform="translate(26.60,188.60) scale(1,1.0)" x="0" y="0" text-anchor="end" font-size="9.9" fill="#1c1c1c">1.0</text>
<line x1="29" y1="473.5" x2="33" y2="473.5" stroke="#b0b0b0" stroke-width="1"/>
<text transform="translate(26.60,476.60) scale(1,1.0)" x="0" y="0" text-anchor="end" font-size="9.9" fill="#1c1c1c">0.0</text>
<line x1="29" y1="446.3" x2="33" y2="446.3" stroke="#b0b0b0" stroke-width="1"/>
<text transform="translate(26.60,449.40) scale(1,1.0)" x="0" y="0" text-anchor="end" font-size="9.9" fill="#1c1c1c">0.2</text>
<line x1="29" y1="419.1" x2="33" y2="419.1" stroke="#b0b0b0" stroke-width="1"/>
<text transform="translate(26.60,422.20) scale(1,1.0)" x="0" y="0" text-anchor="end" font-size="9.9" fill="#1c1c1c">0.4</text>
<line x1="29" y1="391.9" x2="33" y2="391.9" stroke="#b0b0b0" stroke-width="1"/>
<text transform="translate(26.60,395.00) scale(1,1.0)" x="0" y="0" text-anchor="end" font-size="9.9" fill="#1c1c1c">0.6</text>
<line x1="29" y1="364.7" x2="33" y2="364.7" stroke="#b0b0b0" stroke-width="1"/>
<text transform="translate(26.60,367.80) scale(1,1.0)" x="0" y="0" text-anchor="end" font-size="9.9" fill="#1c1c1c">0.8</text>
<line x1="29" y1="337.5" x2="33" y2="337.5" stroke="#b0b0b0" stroke-width="1"/>
<text transform="translate(26.60,340.60) scale(1,1.0)" x="0" y="0" text-anchor="end" font-size="9.9" fill="#1c1c1c">1.0</text>
<line x1="91.3" y1="482" x2="91.3" y2="486" stroke="#b0b0b0" stroke-width="1"/>
<text transform="translate(91.30,496.70) scale(1,1.0)" x="0" y="0" text-anchor="middle" font-size="9.3" fill="#1c1c1c">All</text>
<line x1="193.6" y1="482" x2="193.6" y2="486" stroke="#b0b0b0" stroke-width="1"/>
<text transform="translate(193.60,496.70) scale(1,1.0)" x="0" y="0" text-anchor="middle" font-size="9.3" fill="#1c1c1c">Front</text>
<line x1="295.9" y1="482" x2="295.9" y2="486" stroke="#b0b0b0" stroke-width="1"/>
<text transform="translate(295.90,496.70) scale(1,1.0)" x="0" y="0" text-anchor="middle" font-size="9.3" fill="#1c1c1c">Rear</text>
<line x1="412.5" y1="482" x2="412.5" y2="486" stroke="#b0b0b0" stroke-width="1"/>
<text transform="translate(412.50,496.70) scale(1,1.0)" x="0" y="0" text-anchor="middle" font-size="9.3" fill="#1c1c1c">Asia</text>
<line x1="514.8" y1="482" x2="514.8" y2="486" stroke="#b0b0b0" stroke-width="1"/>
<text transform="translate(514.80,496.70) scale(1,1.0)" x="0" y="0" text-anchor="middle" font-size="9.3" fill="#1c1c1c">Europ</text>
<line x1="617.1" y1="482" x2="617.1" y2="486" stroke="#b0b0b0" stroke-width="1"/>
<text transform="translate(617.10,496.70) scale(1,1.0)" x="0" y="0" text-anchor="middle" font-size="9.3" fill="#1c1c1c">USA</text>
<line x1="707.6" y1="482" x2="707.6" y2="486" stroke="#b0b0b0" stroke-width="1"/>
<text transform="translate(707.60,496.70) scale(1,1.0)" x="0" y="0" text-anchor="middle" font-size="9.3" fill="#1c1c1c">Hybri</text>
<line x1="759.04" y1="482" x2="759.04" y2="486" stroke="#b0b0b0" stroke-width="1"/>
<text transform="translate(759.04,496.70) scale(1,1.0)" x="0" y="0" text-anchor="middle" font-size="9.3" fill="#1c1c1c">SUV</text>
<line x1="810.48" y1="482" x2="810.48" y2="486" stroke="#b0b0b0" stroke-width="1"/>
<text transform="translate(810.48,496.70) scale(1,1.0)" x="0" y="0" text-anchor="middle" font-size="9.3" fill="#1c1c1c">Sedan</text>
<line x1="861.92" y1="482" x2="861.92" y2="486" stroke="#b0b0b0" stroke-width="1"/>
<text transform="translate(861.92,496.70) scale(1,1.0)" x="0" y="0" text-anchor="middle" font-size="9.3" fill="#1c1c1c">Sport</text>
<line x1="913.36" y1="482" x2="913.36" y2="486" stroke="#b0b0b0" stroke-width="1"/>
<text transform="translate(913.36,496.70) scale(1,1.0)" x="0" y="0" text-anchor="middle" font-size="9.3" fill="#1c1c1c">Truck</text>
<line x1="964.8" y1="482" x2="964.8" y2="486" stroke="#b0b0b0" stroke-width="1"/>
<text transform="translate(964.80,496.70) scale(1,1.0)" x="0" y="0" text-anchor="middle" font-size="9.3" fill="#1c1c1c">Wagon</text>
</svg>
</body></html>
